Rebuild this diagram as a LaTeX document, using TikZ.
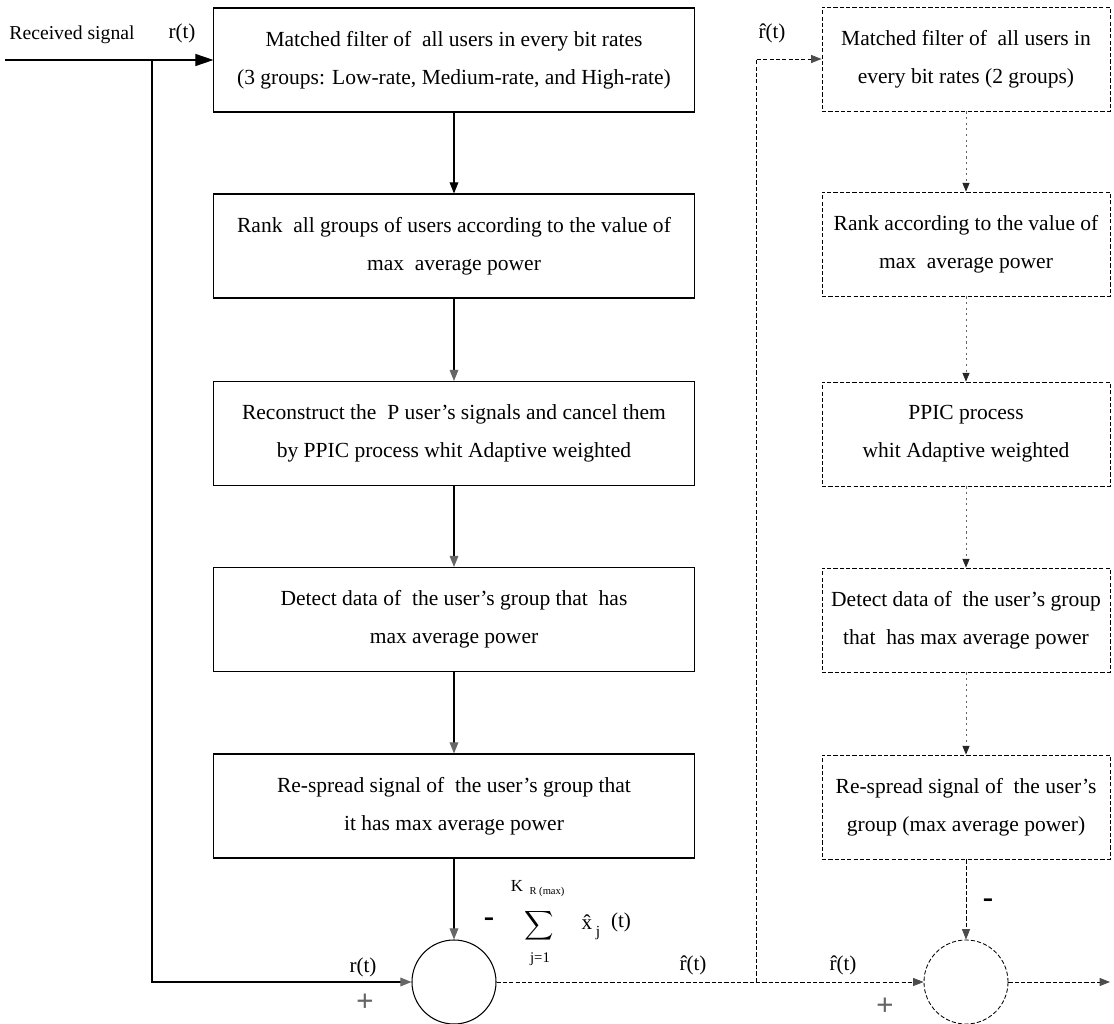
\documentclass[tikz,border=0pt]{standalone}
\usepackage{fontspec}
\setmainfont{Liberation Serif}
\usetikzlibrary{arrows.meta,calc}
\begin{document}
\begin{tikzpicture}[x=0.025cm,y=-0.025cm,
  txt/.style={font=\fontsize{15.3}{27}\selectfont},
  lbox/.style={draw, line width=0.75pt, minimum width=12.0cm, minimum height=2.6cm,
    align=center, inner sep=0pt, txt},
  rbox/.style={draw, dashed, dash pattern=on 3pt off 1.5pt, line width=0.6pt,
    minimum width=7.2cm, minimum height=2.6cm, align=center, inner sep=0pt, txt},
  sumnode/.style={draw, line width=0.75pt, circle, minimum size=2.1cm, inner sep=0pt},
  flow/.style={line width=0.75pt, -{Triangle[length=0.28cm,width=0.22cm]}},
  grayflow/.style={line width=0.75pt, -{Triangle[length=0.28cm,width=0.22cm,color=black!60]}},
  bigflow/.style={line width=0.75pt, -{Triangle[length=0.45cm,width=0.3cm]}},
  dflow/.style={line width=0.6pt, dash pattern=on 3pt off 1.5pt, -{Triangle[length=0.26cm,width=0.2cm,color=black!70]}},
  dline/.style={line width=0.6pt, dash pattern=on 3pt off 1.5pt},
  rflow/.style={line width=0.5pt, black!60, dash pattern=on 1.5pt off 2.5pt, -{Triangle[length=0.22cm,width=0.18cm,color=black!85]}},
  lbl/.style={font=\fontsize{15}{17}\selectfont, inner sep=0pt},
  sgn/.style={font=\fontsize{22}{22}\selectfont\bfseries, inner sep=0pt, black!60}
]
\useasboundingbox (0,0) rectangle (1114,1024);

% main (solid) cancellation stage
\node[lbox] (m1) at (454,60) {Matched filter of\ \ all users in every bit rates\\(3 groups: Low-rate, Medium-rate, and High-rate)};
\node[lbox] (m2) at (454,246) {Rank\ \ all groups of users according to the value of\\max\ \ average power};
\node[lbox] (m3) at (454,433.5) {Reconstruct the\ \ P user's signals and cancel them\\by PPIC process whit Adaptive weighted};
\node[lbox] (m4) at (454,619.5) {Detect data of\ \ the user's group that\ \ has\\max average power};
\node[lbox] (m5) at (454,806) {Re-spread signal of\ \ the user's group that\\it has max average power};
\node[sumnode] (c1) at (454,982) {};

% second (dashed) stage
\node[rbox] (r1) at (966,59) {Matched filter of\ \ all users in\\every bit rates (2 groups)};
\node[rbox] (r2) at (966,244) {Rank according to the value of\\max\ \ average power};
\node[rbox] (r3) at (966,434) {PPIC process\\whit Adaptive weighted};
\node[rbox] (r4) at (966,620) {Detect data of\ \ the user's group\\that\ \ has max average power};
\node[rbox] (r5) at (966,807) {Re-spread signal of\ \ the user's\\group (max average power)};
\node[sumnode, dashed, dash pattern=on 3pt off 1.5pt, line width=0.6pt] (c2) at (966,982) {};

% input and feed-forward path
\coordinate (src) at (5,60);
\coordinate (tap) at (152,60);
\draw[bigflow] (src) -- (m1.west);
\draw[grayflow] (tap) |- (c1.west);

\draw[flow] (m1) -- (m2);
\draw[grayflow] (m2) -- (m3);
\draw[grayflow] (m3) -- (m4);
\draw[grayflow] (m4) -- (m5);
\draw[grayflow] (m5) -- (c1);

% residual signal to the second stage
\coordinate (tap2) at (756,982);
\draw[dline] (c1.east) -- (tap2);
\draw[dflow] (tap2) -- (c2.west);
\draw[dflow] (tap2) |- (r1.west);

\draw[rflow] (r1) -- (r2);
\draw[rflow] (r2) -- (r3);
\draw[rflow] (r3) -- (r4);
\draw[rflow] (r4) -- (r5);
\draw[dflow] (r5) -- (c2);
\coordinate (out) at (1110,982);
\draw[dflow] (c2.east) -- (out);

% labels
\node[lbl, font=\fontsize{14}{16}\selectfont] (rxlbl) at (72,35) {Received signal};
\node[lbl] (rt1) at (182,33) {r(t)};
\node[lbl] (rh1) at (772,33) {\^r(t)};
\node[lbl] (rt2) at (363,967) {r(t)};
\node[sgn] (p1) at (365,1003) {+};
\node[lbl] (rh2) at (693,965) {\^r(t)};
\node[lbl] (rh3) at (843,965) {\^r(t)};
\node[sgn] (p2) at (885,1007) {+};
\node[sgn, black] (n2) at (988,903) {-};

% subtracted term
\node[sgn, black] (n1) at (489,922) {-};
\node[inner sep=0pt] (sg) at (539,926) {\scalebox{1.45}{$\displaystyle\sum$}};
\node[lbl, font=\fontsize{12}{14}\selectfont] (kk) at (517,886) {K};
\node[lbl, font=\fontsize{7.5}{8}\selectfont] (kr) at (547,892) {R (max)};
\node[lbl, font=\fontsize{10.5}{12}\selectfont] (jj) at (540,959) {j=1};
\node[lbl] (xh) at (587,922) {\^x};
\node[lbl, font=\fontsize{11}{12}\selectfont] (xj) at (598,933) {j};
\node[lbl] (xt) at (621,922) {(t)};
\end{tikzpicture}
\end{document}
